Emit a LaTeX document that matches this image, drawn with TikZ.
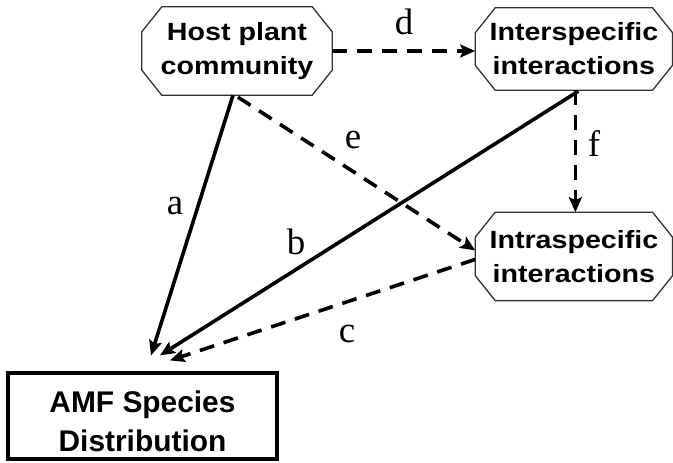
\documentclass[tikz,border=0pt]{standalone}
\usepackage{fontspec}
\newfontfamily\boxfont[FakeStretch=1.15]{Liberation Sans}
\newfontfamily\amffont{Liberation Sans}
\newfontfamily\labfont{Liberation Serif}
\usetikzlibrary{positioning}
\usetikzlibrary{arrows.meta}

\tikzset{
  octo/.style={font=\boxfont\bfseries\fontsize{25}{34}\selectfont, align=center, inner sep=0pt, minimum width=197bp, minimum height=88bp},
  octline/.style={line width=1.3bp, black!80},
  amfbox/.style={draw, line width=3.2bp, minimum width=269bp, minimum height=86bp, inner sep=0pt},
  lab/.style={font=\labfont\fontsize{37}{40}\selectfont, inner sep=0pt},
  link/.style={line width=3.6bp, -{Stealth[length=15bp, width=13bp, inset=3bp]}},
  dlink/.style={link, dash pattern=on 15bp off 10bp}
}

\begin{document}
\begin{tikzpicture}[x=1bp, y=-1bp]
      \useasboundingbox (0,0) rectangle (673,463);

      \node[octo, minimum width=190bp] (host) at (237,51) {Host plant\\community};
      \node[octo, minimum height=82bp, right=143bp of host, yshift=2bp] (inter) {Interspecific\\interactions};
      \node[octo, below=122bp of inter] (intra) {Intraspecific\\interactions};

      \foreach \n in {host,inter,intra}
        \draw[octline] ([xshift=20bp]\n.north west) -- ([xshift=-20bp]\n.north east) -- ([yshift=-25bp]\n.north east)
          -- ([yshift=25bp]\n.south east) -- ([xshift=-20bp]\n.south east) -- ([xshift=20bp]\n.south west)
          -- ([yshift=25bp]\n.south west) -- ([yshift=-25bp]\n.north west) -- cycle;

      \node[amfbox] (amf) at (142.5,416) {};
      \node[font=\amffont\bfseries\fontsize{30}{39}\selectfont, align=center, inner sep=0pt] (amftext) at (142.5,421.5) {AMF Species\\Distribution};

      \draw[dlink] (host.east) -- (host.east -| inter.west);
      \draw[link] ([xshift=-4bp]host.south) -- ([xshift=8.5bp, yshift=16bp]amf.north);
      \draw[dlink] ([xshift=1bp, yshift=-2bp]host.south) -- ([yshift=6bp]intra.west);
      \draw[link] ([xshift=4.5bp, yshift=-1bp]inter.south) -- ([xshift=17.5bp, yshift=16bp]amf.north);
      \draw[dlink] ([xshift=1.5bp]inter.south) -- ([xshift=1.5bp]intra.north);
      \draw[dlink] ([yshift=-3bp]intra.west) -- ([xshift=27.5bp, yshift=11bp]amf.north);

      \node[lab, anchor=base] (la) at (175,215) {a};
      \node[lab, anchor=base] (lb) at (296,255) {b};
      \node[lab, anchor=base] (lc) at (347,342) {c};
      \node[lab, anchor=base] (ld) at (404,35) {d};
      \node[lab, anchor=base] (le) at (353,149) {e};
      \node[lab, anchor=base] (lf) at (594,157) {f};
\end{tikzpicture}
\end{document}
